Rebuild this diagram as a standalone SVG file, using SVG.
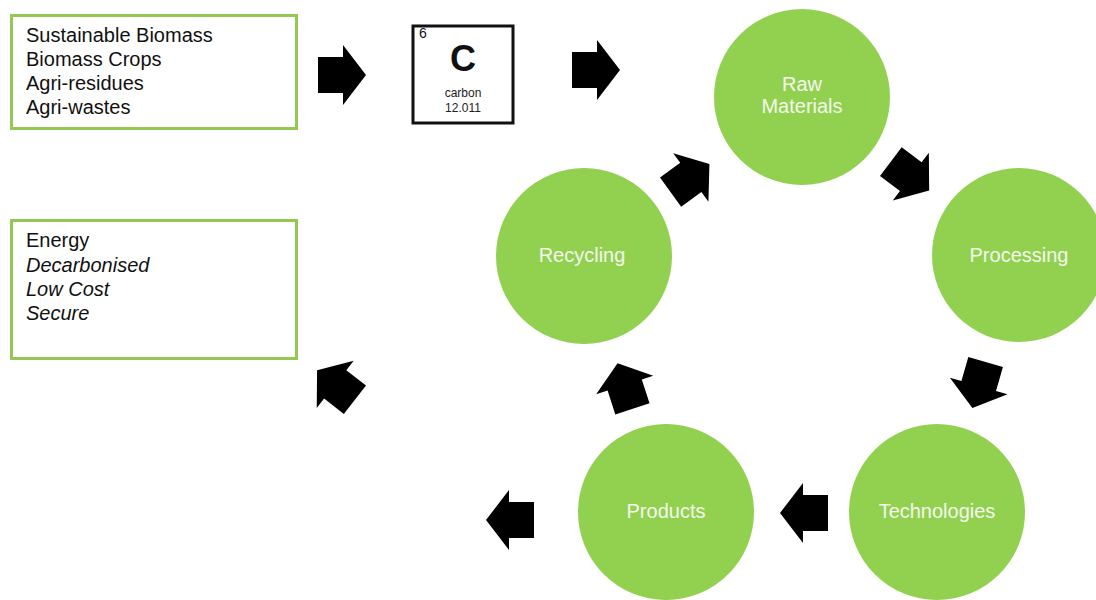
<svg xmlns="http://www.w3.org/2000/svg" width="1096" height="600" viewBox="0 0 1096 600">
<style>
.box{fill:#fff;stroke:#92c853;stroke-width:3}
.bt{font-family:"Liberation Sans",Arial,sans-serif;font-size:20px;fill:#111}
.it{font-style:italic}
.circ{fill:#92d050}
.ct{font-family:"Liberation Sans",Arial,sans-serif;font-size:20px;fill:#f4f9ec;text-anchor:middle}
.arr{fill:#000}
</style>
<defs>
<path id="ba" d="M-24,-18 H1 V-30 L24,0 L1,30 V18 H-24 Z"/>
</defs>
<rect width="1096" height="600" fill="#fff"/>

<g id="sources">
<rect class="box" x="11.5" y="15.5" width="285" height="113"/>
<text class="bt" x="26" y="42">Sustainable Biomass</text>
<text class="bt" x="26" y="66">Biomass Crops</text>
<text class="bt" x="26" y="90">Agri-residues</text>
<text class="bt" x="26" y="114">Agri-wastes</text>
</g>

<g id="energy">
<rect class="box" x="11.5" y="220.5" width="285" height="138"/>
<text class="bt" x="26" y="247">Energy</text>
<text class="bt it" x="26" y="272">Decarbonised</text>
<text class="bt it" x="26" y="296">Low Cost</text>
<text class="bt it" x="26" y="320">Secure</text>
</g>

<g id="carbon">
<rect x="413" y="26" width="100" height="97" fill="#fff" stroke="#111" stroke-width="3"/>
<text x="419" y="38" font-family="Liberation Sans,Arial,sans-serif" font-size="14" fill="#111">6</text>
<text x="463" y="71" font-family="Liberation Sans,Arial,sans-serif" font-size="36" font-weight="bold" fill="#111" text-anchor="middle">C</text>
<text x="463" y="97" font-family="Liberation Sans,Arial,sans-serif" font-size="12" fill="#222" text-anchor="middle">carbon</text>
<text x="463" y="112" font-family="Liberation Sans,Arial,sans-serif" font-size="12" fill="#222" text-anchor="middle">12.011</text>
</g>

<g id="raw-materials">
<circle class="circ" cx="802" cy="97" r="88"/>
<text class="ct" x="802" y="91">Raw</text>
<text class="ct" x="802" y="113">Materials</text>
</g>
<g id="processing">
<circle class="circ" cx="1019" cy="255" r="87"/>
<text class="ct" x="1019" y="262">Processing</text>
</g>
<g id="technologies">
<circle class="circ" cx="937" cy="512" r="88"/>
<text class="ct" x="937" y="518">Technologies</text>
</g>
<g id="products">
<circle class="circ" cx="666" cy="512" r="88"/>
<text class="ct" x="666" y="518">Products</text>
</g>
<g id="recycling">
<circle class="circ" cx="584" cy="256" r="88"/>
<text class="ct" x="582" y="262">Recycling</text>
</g>

<g id="connectors" class="arr">
<use href="#ba" transform="translate(342,75)"/>
<use href="#ba" transform="translate(596,70)"/>
<use href="#ba" transform="translate(910,176) rotate(37)"/>
<use href="#ba" transform="translate(979,385) rotate(106)"/>
<use href="#ba" transform="translate(804,513) rotate(180)"/>
<use href="#ba" transform="translate(625,386) rotate(-108)"/>
<use href="#ba" transform="translate(690,178) rotate(-36)"/>
<use href="#ba" transform="translate(510,520) rotate(180)"/>
<use href="#ba" transform="translate(336,385) rotate(-142)"/>
</g>
</svg>
